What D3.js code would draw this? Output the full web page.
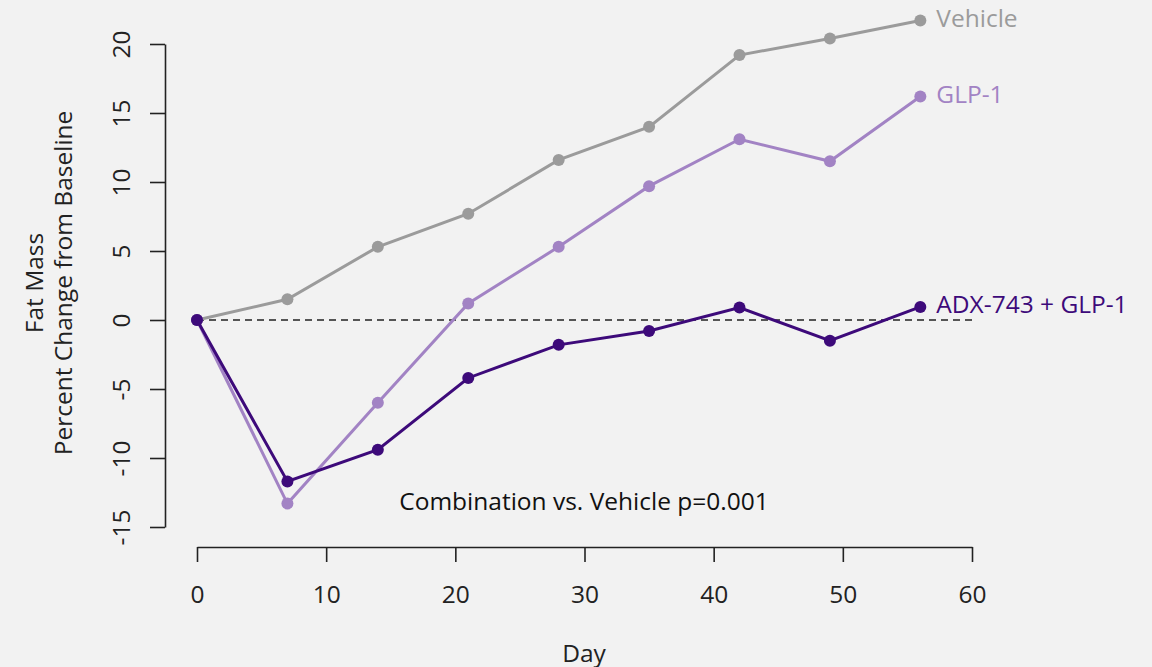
<!DOCTYPE html>
<html><head><meta charset="utf-8">
<script src="https://cdnjs.cloudflare.com/ajax/libs/d3/7.8.5/d3.min.js"></script>
<style>html,body{margin:0;padding:0;background:#f2f2f2;}svg{display:block;font-family:"Open Sans",sans-serif;}</style>
</head><body><svg id="c" width="1152" height="667"></svg>
<script>
const days = [0, 7, 14, 21, 28, 35, 42, 49, 56];
const vehicle = [0, 1.5, 5.3, 7.7, 11.6, 14.0, 19.2, 20.4, 21.7];
const glp1 = [0, -13.3, -6.0, 1.2, 5.3, 9.7, 13.1, 11.5, 16.2];
const combo = [0, -11.7, -9.4, -4.2, -1.8, -0.8, 0.9, -1.5, 0.95];
const seriesNames = ["Vehicle", "GLP-1", "ADX-743 + GLP-1"];
const seriesColors = ["#9b9b9b", "#a283c4", "#3d0a7a"];
const xTicks = [0, 10, 20, 30, 40, 50, 60];
const yTicks = [-15, -10, -5, 0, 5, 10, 15, 20];
const annotation = "Combination vs. Vehicle p=0.001";

const svg = d3.select("#c");
svg.append("rect").attr("width",1152).attr("height",667).attr("fill","#f2f2f2");
const x = d3.scaleLinear().domain([0,60]).range([197,972]);
const y = d3.scaleLinear().domain([-15,20]).range([527,44]);
const fs = 24.5;

// x axis
const xa = svg.append("g").attr("transform","translate(0,547)")
  .call(d3.axisBottom(x).tickValues(xTicks).tickSize(15).tickSizeOuter(0).tickPadding(0));
xa.select(".domain").attr("stroke","#222").attr("stroke-width",1.6);
xa.selectAll(".tick line").attr("stroke","#222").attr("stroke-width",1.6);
xa.selectAll(".tick text").attr("font-size",fs).attr("fill","#222").attr("font-family","Open Sans")
  .attr("y",46).attr("dy",null).attr("dominant-baseline","central");

// y axis
const ya = svg.append("g").attr("transform","translate(165,0)")
  .call(d3.axisLeft(y).tickValues(yTicks).tickSize(15).tickSizeOuter(0).tickPadding(0).tickFormat(d=>d));
ya.select(".domain").attr("stroke","#222").attr("stroke-width",1.6);
ya.selectAll(".tick line").attr("stroke","#222").attr("stroke-width",1.6);
ya.selectAll(".tick text").attr("font-size",fs).attr("fill","#222").attr("font-family","Open Sans")
  .attr("x",0).attr("dy",null).attr("text-anchor","middle").attr("dominant-baseline","central")
  .attr("transform","translate(-45,0) rotate(-90)");

// axis titles
svg.append("text").attr("x",584).attr("y",652).attr("text-anchor","middle").attr("dominant-baseline","central")
  .attr("font-size",fs).attr("fill","#222").text("Day");
svg.append("text").attr("transform","translate(33,283) rotate(-90)").attr("text-anchor","middle").attr("dominant-baseline","central")
  .attr("font-size",fs).attr("fill","#222").text("Fat Mass");
svg.append("text").attr("transform","translate(62,283) rotate(-90)").attr("text-anchor","middle").attr("dominant-baseline","central")
  .attr("font-size",fs).attr("fill","#222").text("Percent Change from Baseline");

// baseline dashed
svg.append("line").attr("x1",x(0)).attr("x2",x(60)).attr("y1",y(0)).attr("y2",y(0))
  .attr("stroke","#222").attr("stroke-width",1.3).attr("stroke-dasharray","7,5");

const allSeries = [vehicle, glp1, combo];
const line = d3.line().x((d,i)=>x(days[i])).y(d=>y(d));
allSeries.forEach((vals,k)=>{
  const g = svg.append("g");
  g.append("path").datum(vals).attr("d",line).attr("fill","none")
    .attr("stroke",seriesColors[k]).attr("stroke-width",3);
  g.selectAll("circle").data(vals).join("circle")
    .attr("cx",(d,i)=>x(days[i])).attr("cy",d=>y(d)).attr("r",6).attr("fill",seriesColors[k]);
  const last = vals.length-1;
  g.append("text").attr("x",x(days[last])+16).attr("y",y(vals[last])-3)
    .attr("dominant-baseline","central").attr("font-size",fs).attr("fill",seriesColors[k]).text(seriesNames[k]);
});

svg.append("text").attr("x",584).attr("y",500).attr("text-anchor","middle").attr("dominant-baseline","central")
  .attr("font-size",fs).attr("fill","#111").text(annotation);
</script></body></html>
